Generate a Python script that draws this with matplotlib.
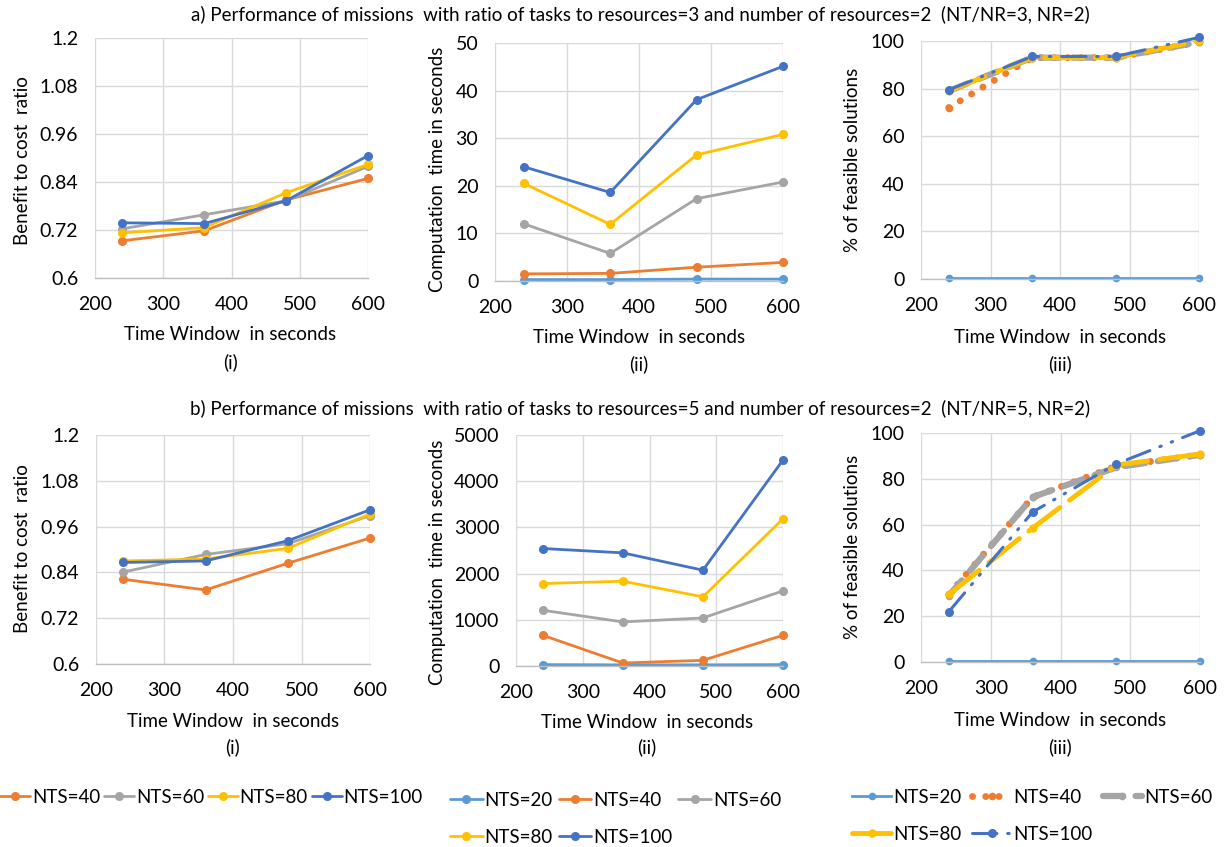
import matplotlib
matplotlib.use('Agg')
import matplotlib.pyplot as plt

W, H = 1225, 847
plt.rcParams['font.family'] = ['Lato', 'DejaVu Sans']

# ---------------- data ----------------
time_window = [240, 360, 480, 600]
x_ticks = [200, 300, 400, 500, 600]
ratio_ticks = [0.6, 0.72, 0.84, 0.96, 1.08, 1.2]
ratio_tick_labels = ['0.6', '0.72', '0.84', '0.96', '1.08', '1.2']
a_time_ticks = [0, 10, 20, 30, 40, 50]
b_time_ticks = [0, 1000, 2000, 3000, 4000, 5000]
feas_ticks = [0, 20, 40, 60, 80, 100]

labels = ['NTS=20', 'NTS=40', 'NTS=60', 'NTS=80', 'NTS=100']

# a) NT/NR=3, NR=2
a_ratio_40 = [0.693, 0.718, 0.795, 0.849]
a_ratio_60 = [0.723, 0.758, 0.793, 0.879]
a_ratio_80 = [0.713, 0.726, 0.813, 0.884]
a_ratio_100 = [0.738, 0.736, 0.793, 0.906]

a_time_20 = [0.3, 0.3, 0.4, 0.4]
a_time_40 = [1.5, 1.6, 2.9, 3.9]
a_time_60 = [12.0, 5.8, 17.3, 20.8]
a_time_80 = [20.5, 11.9, 26.5, 30.8]
a_time_100 = [24.0, 18.6, 38.1, 45.1]

a_feas_20 = [0.3, 0.3, 0.3, 0.3]
a_feas_40 = [72.0, 93.0, 93.0, 99.5]
a_feas_60 = [79.0, 93.0, 93.0, 99.5]
a_feas_80 = [79.0, 93.0, 93.0, 100.0]
a_feas_100 = [79.5, 93.5, 93.5, 101.5]

# b) NT/NR=5, NR=2
b_ratio_40 = [0.822, 0.794, 0.864, 0.930]
b_ratio_60 = [0.841, 0.887, 0.915, 0.989]
b_ratio_80 = [0.870, 0.875, 0.903, 0.993]
b_ratio_100 = [0.866, 0.870, 0.923, 1.004]

b_time_20 = [30, 25, 25, 30]
b_time_40 = [665, 65, 123, 665]
b_time_60 = [1207, 954, 1040, 1626]
b_time_80 = [1785, 1835, 1496, 3186]
b_time_100 = [2543, 2449, 2074, 4458]

b_feas_20 = [0.3, 0.3, 0.3, 0.3]
b_feas_40 = [29.5, 72.0, 85.5, 90.5]
b_feas_60 = [29.0, 72.0, 85.0, 90.5]
b_feas_80 = [29.5, 58.5, 86.0, 90.8]
b_feas_100 = [22.0, 65.5, 86.5, 101.0]

colors = ['#5B9BD5', '#ED7D31', '#A5A5A5', '#FFC000', '#4472C4']

# ---------------- helpers ----------------
fig = plt.figure(figsize=(W / 100, H / 100), dpi=100)


def add_ax(l, t, r, b):
    return fig.add_axes([l / W, 1 - b / H, (r - l) / W, (b - t) / H])


def ftext(x, y, s, **kw):
    fig.text(x / W, 1 - y / H, s, ha='center', va='center', **kw)


def style_ax(ax, yticks, ylabels=None):
    ax.set_xlim(200, 600)
    ax.set_ylim(yticks[0], yticks[-1])
    ax.set_xticks(x_ticks)
    ax.set_yticks(yticks)
    if ylabels is not None:
        ax.set_yticklabels(ylabels)
    ax.grid(True, color='#D9D9D9', lw=1.0)
    ax.set_axisbelow(True)
    for s in ['left', 'right', 'top']:
        ax.spines[s].set_visible(False)
    ax.spines['bottom'].set_color('#BFBFBF')
    ax.spines['bottom'].set_linewidth(1.0)
    ax.tick_params(axis='x', length=0, labelsize=14, colors='black', pad=13)
    ax.tick_params(axis='y', length=0, labelsize=14, colors='black', pad=12)


def plain(ax, series, cols):
    hs = []
    for ys, c in zip(series, cols):
        h, = ax.plot(time_window, ys, color=c, lw=2.0, marker='o', ms=5.5,
                     clip_on=False, solid_capstyle='round')
        hs.append(h)
    return hs


feas_styles = [
    dict(ls='-', lw=2.0, ms=5.5),
    dict(ls=(0, (0.01, 1.9)), lw=5.0, ms=5.5, dash_capstyle='round'),
    dict(ls=(0, (3.2, 2.0)), lw=4.5, ms=5.5, dash_capstyle='round'),
    dict(ls=(0, (8, 2.5)), lw=3.5, ms=6.0, dash_capstyle='round'),
    dict(ls=(0, (8, 3.5, 0.5, 3.5, 0.5, 3.5)), lw=2.2, ms=6.5, dash_capstyle='round'),
]


def feas(ax, series):
    hs = []
    for ys, c, st in zip(series, colors, feas_styles):
        st = dict(st)
        h, = ax.plot(time_window, ys, color=c, marker='o', clip_on=False,
                     markeredgewidth=0, **st)
        hs.append(h)
    return hs


# ---------------- top row ----------------
A1 = add_ax(95, 38, 368, 278)
plain(A1, [a_ratio_40, a_ratio_60, a_ratio_80, a_ratio_100], colors[1:])
style_ax(A1, ratio_ticks, ratio_tick_labels)

A2 = add_ax(495, 43, 783, 281)
plain(A2, [a_time_20, a_time_40, a_time_60, a_time_80, a_time_100], colors)
style_ax(A2, a_time_ticks)

A3 = add_ax(921, 41, 1199, 279)
feas(A3, [a_feas_20, a_feas_40, a_feas_60, a_feas_80, a_feas_100])
style_ax(A3, feas_ticks)

# ---------------- bottom row ----------------
B1 = add_ax(96, 435, 370, 664)
h_left = plain(B1, [b_ratio_40, b_ratio_60, b_ratio_80, b_ratio_100], colors[1:])
style_ax(B1, ratio_ticks, ratio_tick_labels)

B2 = add_ax(516, 435, 783, 666)
h_mid = plain(B2, [b_time_20, b_time_40, b_time_60, b_time_80, b_time_100], colors)
style_ax(B2, b_time_ticks)

B3 = add_ax(921, 433, 1200, 662)
h_right = feas(B3, [b_feas_20, b_feas_40, b_feas_60, b_feas_80, b_feas_100])
style_ax(B3, feas_ticks)

# ---------------- texts ----------------
ftext(640, 14, 'a) Performance of missions  with ratio of tasks to resources=3 and number of resources=2  (NT/NR=3, NR=2)', fontsize=13.5)
ftext(640, 408, 'b) Performance of missions  with ratio of tasks to resources=5 and number of resources=2  (NT/NR=5, NR=2)', fontsize=13.5)

lab = dict(fontsize=13.5)
ftext(230, 335, 'Time Window  in seconds', **lab)
ftext(230, 362, '(i)', **lab)
ftext(639, 337, 'Time Window  in seconds', **lab)
ftext(639, 364, '(ii)', **lab)
ftext(1060, 337, 'Time Window  in seconds', **lab)
ftext(1060, 364, '(iii)', **lab)
ftext(233, 721, 'Time Window  in seconds', **lab)
ftext(233, 747, '(i)', **lab)
ftext(647, 722, 'Time Window  in seconds', **lab)
ftext(647, 747, '(ii)', **lab)
ftext(1060, 720, 'Time Window  in seconds', **lab)
ftext(1060, 747, '(iii)', **lab)

ftext(23, 161, 'Benefit to cost  ratio', rotation=90, **lab)
ftext(437, 169, 'Computation  time in seconds', rotation=90, **lab)
ftext(853, 160, '% of feasible solutions', rotation=90, **lab)
ftext(23, 549, 'Benefit to cost  ratio', rotation=90, **lab)
ftext(437, 562, 'Computation  time in seconds', rotation=90, **lab)
ftext(853, 547, '% of feasible solutions', rotation=90, **lab)

# ---------------- legends ----------------
leg_kw = dict(frameon=False, fontsize=13.5, handletextpad=0.1, borderpad=0,
              borderaxespad=0)
order = [0, 3, 1, 4, 2]  # row-major filling for 3 columns
fig.legend(h_left, labels[1:], loc='center left', ncol=4,
           bbox_to_anchor=(0 / W, 1 - 797 / H), columnspacing=0.2,
           handlelength=1.6, **leg_kw)
fig.legend([h_mid[i] for i in order], [labels[i] for i in order],
           loc='upper left', ncol=3,
           bbox_to_anchor=(450 / W, 1 - 792 / H), columnspacing=0.3,
           labelspacing=1.05, handlelength=1.75, **leg_kw)
fig.legend([h_right[i] for i in order], [labels[i] for i in order],
           loc='upper left', ncol=3,
           bbox_to_anchor=(852 / W, 1 - 789 / H), columnspacing=0.55,
           labelspacing=1.05, handlelength=2.1, **leg_kw)

fig.savefig('out.png', dpi=100, facecolor='white')
